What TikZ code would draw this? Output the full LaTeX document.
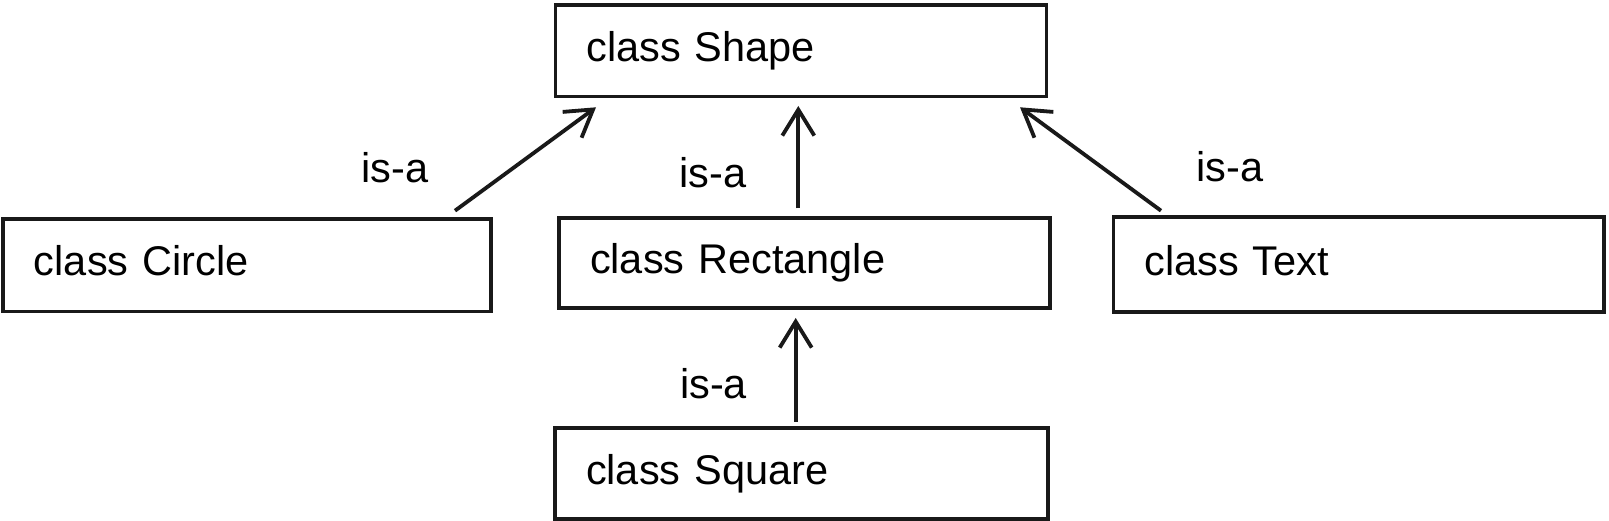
\documentclass[tikz,border=0pt]{standalone}
\usepackage{fontspec}
\setmainfont{Liberation Sans}
\usetikzlibrary{arrows.meta,calc}
\begin{document}
\begin{tikzpicture}[x=1pt,y=-1pt,
  classbox/.style={draw=black!90, line width=3.6pt, anchor=north west, outer sep=0pt,
    inner xsep=31pt, inner ysep=0pt, align=left,
    font=\fontsize{41.5pt}{48pt}\selectfont, text height=30pt, text depth=8.6pt},
  isalabel/.style={anchor=base, inner sep=0pt, font=\fontsize{41.5pt}{48pt}\selectfont},
  isarrow/.style={line width=3.8pt, black!90,
    -{Straight Barb[length=26pt,width=32pt,line width=3.8pt]}}]
\useasboundingbox (0,0) rectangle (1609,521);
\fill[white] (0,0) rectangle (1609,521);

\node[classbox, minimum width=491pt, minimum height=91.5pt, text width=429pt] (shape) at (555.5,5) {class Shape};
\node[classbox, minimum width=488pt, minimum height=92.5pt, text width=426pt] (circle) at (3,219) {class Circle};
\node[classbox, minimum width=491pt, minimum height=90pt, text width=429pt] (rect) at (559,218) {class Rectangle};
\node[classbox, minimum width=490.5pt, minimum height=95pt, text width=428.5pt] (txt) at (1113.5,217) {class Text};
\node[classbox, minimum width=493pt, minimum height=91pt, text width=431pt] (square) at (555,428) {class Square};

\node[isalabel] (la) at (395,183) {is-a};
\node[isalabel] (lb) at (713,188) {is-a};
\node[isalabel] (lc) at (1230,182) {is-a};
\node[isalabel] (ld) at (713.5,398) {is-a};

\draw[isarrow] ($(circle.north east)+(-36,-8.3)$) -- ($(shape.south west)+(40.5,10.8)$);
\draw[isarrow] ($(rect.north west)+(239.3,-9.7)$) -- ($(shape.south west)+(242.8,9.5)$);
\draw[isarrow] ($(txt.north west)+(47.5,-6.3)$) -- ($(shape.south east)+(-26.5,10.8)$);
\draw[isarrow] ($(square.north west)+(240.7,-6.3)$) -- ($(rect.south west)+(236.7,10)$);
\end{tikzpicture}
\end{document}
